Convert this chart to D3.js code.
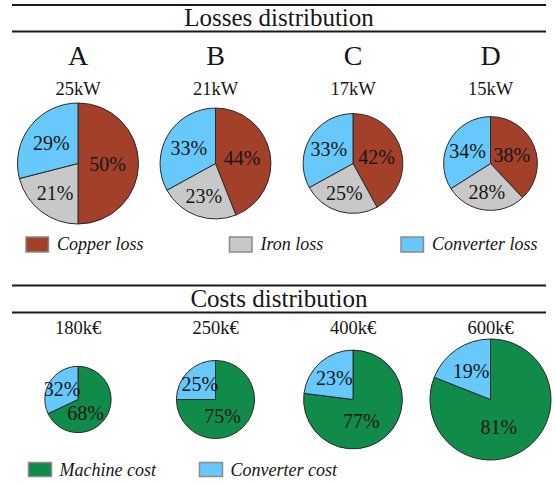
<!DOCTYPE html>
<html>
<head>
<meta charset="utf-8">
<script src="https://cdn.jsdelivr.net/npm/d3@7/dist/d3.min.js"></script>
<style>
  html, body { margin: 0; padding: 0; background: #fff; }
  svg { display: block; }
  text { font-family: "Liberation Serif", "DejaVu Serif", serif; fill: #161616; }
</style>
</head>
<body>
<svg id="chart" width="555" height="484"></svg>
<script>
// ---------- data ----------
const lossCategories = ["A", "B", "C", "D"];
const lossPower = [25, 21, 17, 15];             // kW
const lossPowerLabels = ["25kW", "21kW", "17kW", "15kW"];
const lossSeries = ["Copper loss", "Iron loss", "Converter loss"];
const copperLoss = [50, 44, 42, 38];
const ironLoss = [21, 23, 25, 28];
const converterLoss = [29, 33, 33, 34];

const costTotals = [180, 250, 400, 600];        // k€
const costLabels = ["180k€", "250k€", "400k€", "600k€"];
const costSeries = ["Machine cost", "Converter cost"];
const machineCost = [68, 75, 77, 81];
const converterCost = [32, 25, 23, 19];

// ---------- styles ----------
const lossColors = ["#a3402a", "#c8c8c8", "#66c8fb"];
const costColors = ["#118b4a", "#66c8fb"];
const lossLabelFrac = [0.49, 0.62, 0.56];

const svg = d3.select("#chart");

const x = d3.scalePoint().domain(d3.range(4)).range([78, 490.5]);
const rLoss = d3.scaleSqrt().domain([0, 25]).range([0, 60.5]);
const rCost = d3.scaleSqrt().domain([0, 600]).range([0, 60.5]);
const pie = d3.pie().sort(null).value(d => d);

function header(title, yTop, yBot, yText) {
  svg.append("line").attr("x1", 12).attr("x2", 546).attr("y1", yTop).attr("y2", yTop)
    .attr("stroke", "#1a1a1a").attr("stroke-width", 2);
  svg.append("line").attr("x1", 12).attr("x2", 546).attr("y1", yBot).attr("y2", yBot)
    .attr("stroke", "#1a1a1a").attr("stroke-width", 2);
  svg.append("text").attr("x", 279).attr("y", yText).attr("text-anchor", "middle")
    .attr("font-size", 25).text(title);
}

// ---------- Losses ----------
header("Losses distribution", 5, 31.5, 26);

lossCategories.forEach((c, i) => {
  const cx = x(i), cy = 163.5;
  svg.append("text").attr("x", cx).attr("y", 65).attr("text-anchor", "middle")
    .attr("font-size", 28).text(c);
  svg.append("text").attr("x", cx).attr("y", 94.5).attr("text-anchor", "middle")
    .attr("font-size", 18.5).text(lossPowerLabels[i]);

  const r = rLoss(lossPower[i]);
  const vals = [copperLoss[i], ironLoss[i], converterLoss[i]];
  const arcs = pie(vals);
  const arc = d3.arc().innerRadius(0).outerRadius(r);
  const g = svg.append("g").attr("transform", `translate(${cx},${cy})`);
  g.selectAll("path").data(arcs).join("path")
    .attr("d", arc)
    .attr("fill", (d, j) => lossColors[j])
    .attr("stroke", "#2a2a2a").attr("stroke-width", 1);
  g.selectAll("text").data(arcs).join("text")
    .attr("transform", (d, j) => {
      const lr = r * lossLabelFrac[j];
      const p = d3.arc().innerRadius(lr).outerRadius(lr).centroid(d);
      return `translate(${p[0]},${p[1]})`;
    })
    .attr("text-anchor", "middle").attr("dy", "0.35em")
    .attr("font-size", 20).text(d => d.value + "%");
});

// legend losses
const lossLegendX = [26, 229.5, 401];
lossSeries.forEach((s, j) => {
  svg.append("rect").attr("x", lossLegendX[j]).attr("y", 237).attr("width", 22.5).attr("height", 15)
    .attr("fill", lossColors[j]).attr("stroke", "#8a8a8a").attr("stroke-width", 1.5);
  svg.append("text").attr("x", lossLegendX[j] + 31).attr("y", 249.5)
    .attr("font-size", 18).attr("font-style", "italic").text(s);
});

// ---------- Costs ----------
header("Costs distribution", 285.5, 312.5, 307);

costTotals.forEach((t, i) => {
  const cx = x(i), cy = 399.5;
  svg.append("text").attr("x", cx).attr("y", 333.5).attr("text-anchor", "middle")
    .attr("font-size", 18.5).text(costLabels[i]);
  const r = rCost(t);
  const vals = [machineCost[i], converterCost[i]];
  const arcs = pie(vals);
  const arc = d3.arc().innerRadius(0).outerRadius(r);
  const g = svg.append("g").attr("transform", `translate(${cx},${cy})`);
  g.selectAll("path").data(arcs).join("path")
    .attr("d", arc)
    .attr("fill", (d, j) => costColors[j])
    .attr("stroke", "#2a2a2a").attr("stroke-width", 1);
  g.selectAll("text").data(arcs).join("text")
    .attr("transform", (d, j) => {
      let a, lr;
      const mid = (d.startAngle + d.endAngle) / 2;
      if (j === 0) { a = (mid + Math.PI) / 2; lr = 0.47 * r; }
      else { a = mid; lr = 0.57 * r; }
      return `translate(${Math.sin(a) * lr},${-Math.cos(a) * lr})`;
    })
    .attr("text-anchor", "middle").attr("dy", "0.35em")
    .attr("font-size", 20).text(d => d.value + "%");
});

const costLegendX = [28.5, 199.5];
costSeries.forEach((s, j) => {
  svg.append("rect").attr("x", costLegendX[j]).attr("y", 462.5).attr("width", 23).attr("height", 14)
    .attr("fill", costColors[j]).attr("stroke", "#8a8a8a").attr("stroke-width", 1.5);
  svg.append("text").attr("x", costLegendX[j] + 31).attr("y", 475.5)
    .attr("font-size", 18).attr("font-style", "italic").text(s);
});
</script>
</body>
</html>
